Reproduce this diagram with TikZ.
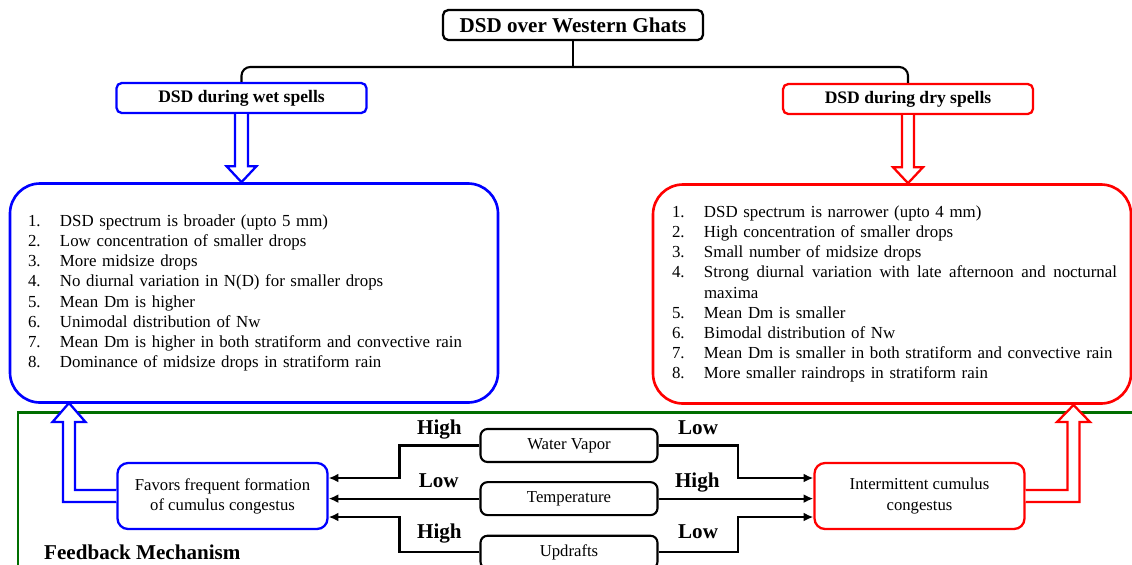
\documentclass[tikz,border=0pt]{standalone}
\usepackage{fontspec}
\setmainfont{Liberation Serif}
\usetikzlibrary{arrows.meta,calc,positioning}

\definecolor{fbgreen}{RGB}{0,110,0}

\begin{document}
\begin{tikzpicture}[
  head/.style={draw, line width=1.3pt, rounded corners=3pt, minimum width=5.2cm, minimum height=0.6cm, font=\bfseries\fontsize{12}{14}\selectfont},
  spell/.style={draw, line width=1.3pt, rounded corners=3pt, minimum width=5.0cm, minimum height=0.6cm, font=\bfseries\fontsize{10}{12}\selectfont},
  listbox/.style={draw, line width=1.5pt, rounded corners=0.6cm, minimum height=4.38cm, align=left, font=\fontsize{9.6}{11.4}\selectfont},
  factor/.style={draw, line width=1.2pt, rounded corners=4pt, minimum width=3.54cm, minimum height=0.66cm, font=\fontsize{9.5}{11.4}\selectfont},
  cloud/.style={draw, line width=1.3pt, rounded corners=6pt, minimum width=4.2cm, minimum height=1.32cm, align=center, font=\fontsize{9.5}{11.4}\selectfont},
  link/.style={line width=1.2pt, rounded corners=5pt},
  feed/.style={-{Latex[length=5.5pt,width=5pt]}, line width=1.2pt},
  hollow/.style={line width=1.3pt, line join=miter, fill=white},
  lab/.style={font=\bfseries\fontsize{12}{14}\selectfont, anchor=base, yshift=0.22cm}
]
\useasboundingbox (0,0) rectangle (22.64,-11.28);
\clip (0,0) rectangle (22.64,-11.28);

% Feedback frame
\draw[fbgreen, line width=1.2pt] (0.36,-8.25) rectangle (23,-12);
\node[font=\bfseries\fontsize{12}{14}\selectfont, anchor=base west] (fbtitle) at (0.76,-11.18) {Feedback Mechanism};

% Top of the tree
\node[head] (title) at (11.46,-0.5) {DSD over Western Ghats};
\node[spell, draw=blue] (wet) at (4.83,-1.96) {DSD during wet spells};
\node[spell, draw=red] (dry) at (18.16,-1.98) {DSD during dry spells};

\coordinate (hub) at (11.46,-1.34);
\draw[link] (wet.north) |- (hub) -| (dry.north);
\draw[link] (title.south) -- (hub);

% Lists of features
\node[listbox, draw=blue, minimum width=9.76cm, text width=9.04cm] (wetlist) at (5.08,-5.86) {\noindent
\begin{tabular}{@{}p{0.64cm}@{}p{8.4cm}@{}}
1. & DSD spectrum is broader (upto 5 mm)\\
2. & Low concentration of smaller drops\\
3. & More midsize drops\\
4. & No diurnal variation in N(D) for smaller drops\\
5. & Mean Dm is higher\\
6. & Unimodal distribution of Nw\\
7. & Mean Dm is higher in both stratiform and convective rain\\
8. & Dominance of midsize drops in stratiform rain
\end{tabular}};
\node[listbox, draw=red, minimum width=9.56cm, text width=9.0cm] (drylist) at (17.84,-5.88) {\noindent\hspace*{0.1cm}%
\begin{tabular}{@{}p{0.64cm}@{}p{8.26cm}@{}}
1. & DSD spectrum is narrower (upto 4 mm)\\
2. & High concentration of smaller drops\\
3. & Small number of midsize drops\\
4. & \leavevmode\hbox to 8.26cm{Strong\hfill diurnal\hfill variation\hfill with\hfill late\hfill afternoon\hfill and\hfill nocturnal}\\
   & maxima\\
5. & Mean Dm is smaller\\
6. & Bimodal distribution of Nw\\
7. & Mean Dm is smaller in both stratiform and convective rain\\
8. & More smaller raindrops in stratiform rain
\end{tabular}};

% Hollow arrows down
\draw[hollow, draw=blue] ($(wet.south)+(-0.13,0)$) -- ($(wet.south |- wetlist.north)+(-0.13,0.32)$) -- ++(-0.17,0)
  -- (wet.south |- wetlist.north) -- ++(0.3,0.32) -- ++(-0.17,0) -- ($(wet.south)+(0.13,0)$);
\draw[hollow, draw=red] ($(dry.south)+(-0.12,0)$) -- ($(dry.south |- drylist.north)+(-0.12,0.32)$) -- ++(-0.18,0)
  -- (dry.south |- drylist.north) -- ++(0.3,0.32) -- ++(-0.18,0) -- ($(dry.south)+(0.12,0)$);

% Factors
\node[factor] (vapor) at (11.38,-8.91) {Water Vapor};
\node[factor, below=0.36cm of vapor] (temp) {Temperature};
\node[factor, below=0.37cm of temp] (updraft) {Updrafts};

\node[cloud, draw=blue] (favors) at (4.45,-9.92) {Favors frequent formation\\of cumulus congestus};
\node[cloud, draw=red] (inter) at (18.39,-9.92) {Intermittent cumulus\\congestus};

\draw[feed] (vapor.west) -- node[lab] {High} ++(-1.6,0) |- ($(favors.east)+(0,0.36)$);
\draw[feed] (temp.west) -- node[lab, pos=0.27] {Low} (temp.west -| favors.east);
\draw[feed] (updraft.west) -- node[lab, yshift=0.06cm] {High} ++(-1.6,0) |- ($(favors.east)+(0,-0.42)$);
\draw[feed] (vapor.east) -- node[lab] {Low} ++(1.58,0) |- ($(inter.west)+(0,0.36)$);
\draw[feed] (temp.east) -- node[lab, pos=0.25] {High} (temp.east -| inter.west);
\draw[feed] (updraft.east) -- node[lab, yshift=0.06cm] {Low} ++(1.58,0) |- ($(inter.west)+(0,-0.42)$);

% Hollow arrows up
\coordinate (wettip) at (1.38,-8.06);
\coordinate (drytip) at (21.47,-8.1);
\draw[hollow, draw=blue] ($(favors.west)+(0,0.12)$) -| ($(wettip)+(0.12,-0.38)$) -- ++(0.21,0) -- (wettip)
  -- ++(-0.33,-0.38) -- ++(0.21,0) |- ($(favors.west)+(0,-0.12)$);
\draw[hollow, draw=red] ($(inter.east)+(0,0.12)$) -| ($(drytip)+(-0.12,-0.34)$) -- ++(-0.21,0) -- (drytip)
  -- ++(0.33,-0.34) -- ++(-0.21,0) |- ($(inter.east)+(0,-0.12)$);
\end{tikzpicture}
\end{document}
